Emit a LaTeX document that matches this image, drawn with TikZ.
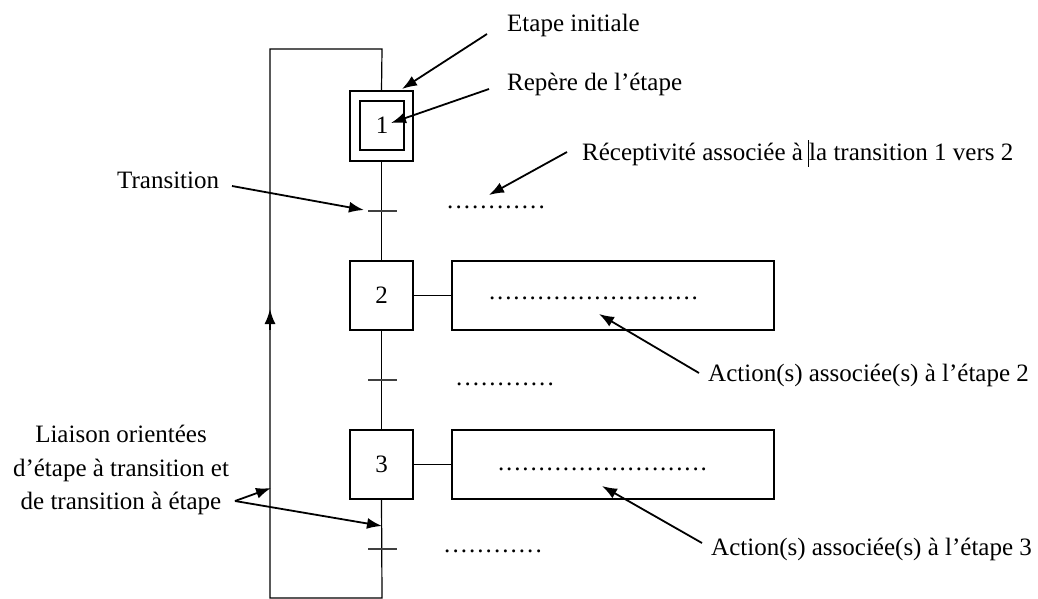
\documentclass[tikz,border=0pt]{standalone}
\usepackage{fontspec}
\setmainfont{Liberation Serif}
\usetikzlibrary{arrows.meta}
\newcommand{\dotrow}[2]{\hbox to #1pt{\leaders\hbox to #2pt{\hss.\hss}\hfill}}
\begin{document}
\begin{tikzpicture}[x=1pt,y=-1pt,
  txt/.style={font=\fontsize{25}{33.5}\selectfont, inner sep=0pt, anchor=base west},
  box/.style={draw, line width=1.2pt, inner sep=0pt, font=\fontsize{25}{30}\selectfont},
  ln/.style={line width=1.2pt},
  tr/.style={line width=1.2pt, draw=black!75},
  arr/.style={line width=1.8pt, -{Latex[length=15pt,width=11pt]}},
  dots/.style={font=\fontsize{25}{30}\selectfont, inner sep=0pt, anchor=base west}]
\useasboundingbox (0,0) rectangle (1038,599);
% steps
\node[box, minimum width=63pt, minimum height=70pt] (s1o) at (381.5,126) {};
\node[box, minimum width=44pt, minimum height=49pt] (s1) at (382,125.5) {1};
\node[box, minimum width=63pt, minimum height=69pt] (s2) at (381.5,295.5) {2};
\node[box, minimum width=63pt, minimum height=69pt] (s3) at (381.5,464.5) {3};
\node[box, minimum width=322pt, minimum height=69pt] (a2) at (613,295.5) {};
\node[box, minimum width=322pt, minimum height=69pt] (a3) at (613,464.5) {};
% loop
\coordinate (lt) at (270,49);
\coordinate (rt) at (382,49);
\coordinate (lb) at (270,598);
\coordinate (rb) at (382,598);
\draw[ln] (s1o.north) -- (rt) -- (lt) -- (lb) -- (rb) -- (s3.south);
\draw[ln] (s1o.south) -- (s2.north);
\draw[ln] (s2.south) -- (s3.north);
\draw[ln] (s2.east) -- (a2.west);
\draw[ln] (s3.east) -- (a3.west);
% transitions
\coordinate (t1a) at (368,211); \coordinate (t1b) at (397,211);
\coordinate (t2a) at (368,380); \coordinate (t2b) at (397,380);
\coordinate (t3a) at (368,549); \coordinate (t3b) at (397,549);
\draw[tr] (t1a) -- (t1b);
\draw[tr] (t2a) -- (t2b);
\draw[tr] (t3a) -- (t3b);
% up arrow on left line
\coordinate (ua) at (270,330);
\coordinate (ub) at (270,309);
\draw[arr] (ua) -- (ub);
% dotted texts
\node[dots] (d1) at (446,208) {\dotrow{106}{8.3}};
\node[dots] (d2) at (488,299) {\dotrow{212}{8.1}};
\node[dots] (d3) at (455,385) {\dotrow{104}{8.3}};
\node[dots] (d4) at (497,470) {\dotrow{214}{8.1}};
\node[dots] (d5) at (443,552) {\dotrow{106}{8.3}};
% labels
\node[txt] (l1) at (507,32) {Etape initiale};
\node[txt] (l2) at (507,91) {Repère de l’étape};
\node[txt] (l3) at (582,160) {Réceptivité associée à la transition 1 vers 2};
\node[txt] (l4) at (117,188) {Transition};
\node[txt] (l5) at (708,381) {Action(s) associée(s) à l’étape 2};
\node[txt] (l6) at (711,555) {Action(s) associée(s) à l’étape 3};
\node[font=\fontsize{25}{33.5}\selectfont, inner sep=0pt, align=center, anchor=north] (l7) at (121,425) {Liaison orientées\\d’étape à transition et\\de transition à étape};
% cursor bar
\coordinate (cb1) at (808,140); \coordinate (cb2) at (808,167);
\draw[line width=0.8pt] (cb1) -- (cb2);
% arrows
\coordinate (e1) at (487,34); \coordinate (p1) at (402,89);
\coordinate (e2) at (489,89); \coordinate (p2) at (391,123);
\coordinate (e3) at (567,152); \coordinate (p3) at (489,195);
\coordinate (e4) at (232,186); \coordinate (p4) at (364,210);
\coordinate (e5) at (699,373); \coordinate (p5) at (599,314);
\coordinate (e6) at (702,543); \coordinate (p6) at (602,486);
\coordinate (e7) at (235,501); \coordinate (p7) at (271,488); \coordinate (p8) at (382,526);
\draw[arr] (e1) -- (p1);
\draw[arr] (e2) -- (p2);
\draw[arr] (e3) -- (p3);
\draw[arr] (e4) -- (p4);
\draw[arr] (e5) -- (p5);
\draw[arr] (e6) -- (p6);
\draw[arr] (e7) -- (p7);
\draw[arr] (e7) -- (p8);
\end{tikzpicture}
\end{document}
